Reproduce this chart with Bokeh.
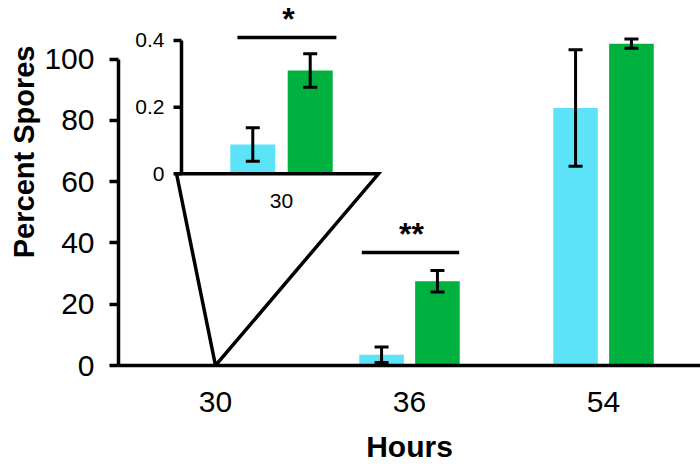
from bokeh.plotting import figure
from bokeh.models import (ColumnDataSource, Range1d, Whisker, TeeHead,
                          FixedTicker, Title)
from bokeh.transform import dodge
from bokeh.core.properties import value
from bokeh.embed import file_html
from bokeh.resources import INLINE

# ---------------- data ----------------
hours = ["30", "36", "54"]
wt_mean = [0.088, 3.5, 84.0]      # cyan series (percent spores)
wt_err = [0.05, 2.5, 19.0]
mut_mean = [0.31, 27.5, 105.0]    # green series
mut_err = [0.05, 3.5, 1.5]

main_ticks = [0, 20, 40, 60, 80, 100]
inset_ticks = [0, 0.2, 0.4]
inset_tick_labels = ["0", "0.2", "0.4"]

sig_hour_main = ["36"]
sig_mark_main = ["**"]
sig_y_main = [36.9]
sig_mark_inset = ["*"]
sig_y_inset = [0.409]

CYAN = "#5DE3F8"
GREEN = "#00B140"
FONT = "Liberation Sans"

# category slots on a linear axis (slot i is centred at i + 0.5)
xpos = [i + 0.5 for i in range(len(hours))]

# ---------------- figure ----------------
W, H = 700, 469
p = figure(width=W, height=H, x_range=Range1d(0, len(hours)),
           y_range=Range1d(0, 119.1), output_backend="svg", toolbar_location=None,
           min_border_left=118, min_border_right=0, min_border_top=0,
           min_border_bottom=104, title=None)
p.outline_line_color = None
p.grid.visible = False

# inset coordinate system (same frame, different scales)
p.extra_x_ranges = {"ix": Range1d(-0.8402, 2.1598)}
p.extra_y_ranges = {"iy": Range1d(-0.5752, 0.520)}

# ---------------- axes ----------------
yax = p.yaxis[0]
yax.ticker = FixedTicker(ticks=main_ticks)
yax.bounds = (0, 100)
yax.axis_line_width = 3.5
yax.major_tick_line_width = 3.5
yax.major_tick_out = 9
yax.major_tick_in = 0
yax.minor_tick_line_color = None
yax.major_label_text_font = FONT
yax.major_label_text_font_size = "30px"
yax.major_label_text_color = "black"
yax.major_label_standoff = 15

xax = p.xaxis[0]
xax.ticker = FixedTicker(ticks=xpos)
xax.major_label_overrides = {x: h for x, h in zip(xpos, hours)}
xax.axis_line_width = 3.5
xax.major_tick_line_color = None
xax.minor_tick_line_color = None
xax.major_label_text_font = FONT
xax.major_label_text_font_size = "30px"
xax.major_label_text_color = "black"
xax.major_label_standoff = 20
xax.axis_label = "Hours"
xax.axis_label_text_font = FONT
xax.axis_label_text_font_style = "bold"
xax.axis_label_text_font_size = "30px"
xax.axis_label_text_color = "black"
xax.axis_label_standoff = 15

p.add_layout(Title(text="Percent Spores", align="right", offset=45, text_font=FONT,
                   text_font_size="29px", text_font_style="bold", text_color="black",
                   standoff=4), "left")

# ---------------- main bars ----------------
src = ColumnDataSource(dict(
    x=xpos, hours=hours, wt=wt_mean, mut=mut_mean,
    wt_lo=[m - e for m, e in zip(wt_mean, wt_err)],
    wt_hi=[m + e for m, e in zip(wt_mean, wt_err)],
    mut_lo=[m - e for m, e in zip(mut_mean, mut_err)],
    mut_hi=[m + e for m, e in zip(mut_mean, mut_err)],
))
OFF_MAIN = 0.144
BW_MAIN = 0.23
p.vbar(x=dodge("x", -OFF_MAIN), top="wt", width=BW_MAIN,
       source=src, fill_color=CYAN, line_color=None)
p.vbar(x=dodge("x", OFF_MAIN), top="mut", width=BW_MAIN,
       source=src, fill_color=GREEN, line_color=None)


def add_whisker(base, lo, hi, source, **kw):
    w = Whisker(base=base, lower=lo, upper=hi, source=source, line_width=3,
                line_color="black", level="overlay",
                upper_head=TeeHead(size=14, line_width=3, line_color="black"),
                lower_head=TeeHead(size=14, line_width=3, line_color="black"), **kw)
    p.add_layout(w)


# error bars in the main panel for the hours not shown in the inset
esrc = ColumnDataSource({k: v[1:] for k, v in src.data.items()})
add_whisker(dodge("x", -OFF_MAIN), "wt_lo", "wt_hi", esrc)
add_whisker(dodge("x", OFF_MAIN), "mut_lo", "mut_hi", esrc)

# significance for 36 h
ssrc = ColumnDataSource(dict(x=[xpos[hours.index(h)] for h in sig_hour_main],
                             y=sig_y_main, t=sig_mark_main,
                             ty=[y + 6.0 for y in sig_y_main]))
p.segment(x0=dodge("x", -0.246), x1=dodge("x", 0.256),
          y0="y", y1="y", source=ssrc, line_color="black", line_width=3.5)
p.text(x=dodge("x", 0.01), y="ty", text="t", source=ssrc,
       text_font=value(FONT), text_font_size="32px", text_font_style="bold",
       text_align="center", text_baseline="alphabetic", text_color="black")

# ---------------- inset (30 h zoom) ----------------
IR = dict(x_range_name="ix", y_range_name="iy")
isrc = ColumnDataSource(dict(
    x=[0], label=[hours[0]], wt=[wt_mean[0]], mut=[mut_mean[0]],
    wt_lo=[wt_mean[0] - wt_err[0]], wt_hi=[wt_mean[0] + wt_err[0]],
    mut_lo=[mut_mean[0] - mut_err[0]], mut_hi=[mut_mean[0] + mut_err[0]],
))
OFF_IN = 0.148
BW_IN = 0.232
p.vbar(x=dodge("x", -OFF_IN), top="wt", width=BW_IN, source=isrc,
       fill_color=CYAN, line_color=None, **IR)
p.vbar(x=dodge("x", OFF_IN), top="mut", width=BW_IN, source=isrc,
       fill_color=GREEN, line_color=None, **IR)
add_whisker(dodge("x", -OFF_IN), "wt_lo", "wt_hi", isrc, **IR)
add_whisker(dodge("x", OFF_IN), "mut_lo", "mut_hi", isrc, **IR)

# zoom triangle: inset baseline -> (first main category, 0)
xr = p.x_range
ixr = p.extra_x_ranges["ix"]
iyr = p.extra_y_ranges["iy"]
bx = ixr.start + (xpos[0] - xr.start) / (xr.end - xr.start) * (ixr.end - ixr.start)
by = iyr.start
p.patch([-0.541, 0.5, bx], [0, 0, by], fill_color=None, line_color="black",
        line_width=3.5, line_join="miter", **IR)

# inset y axis
AX = -0.5155
TICK = 8 / 194
p.segment(x0=[AX], y0=[inset_ticks[0]], x1=[AX], y1=[inset_ticks[-1]],
          line_color="black", line_width=3.5, **IR)
p.segment(x0=[AX] * len(inset_ticks), y0=inset_ticks,
          x1=[AX - TICK] * len(inset_ticks), y1=inset_ticks,
          line_color="black", line_width=3.5, **IR)
p.text(x=[AX - 17 / 194] * len(inset_ticks), y=inset_ticks, text=inset_tick_labels,
       text_font=value(FONT), text_font_size="21px", text_align="right",
       text_baseline="middle", text_color="black", **IR)
p.text(x="x", y=-0.083, text="label", source=isrc, text_font=value(FONT),
       text_font_size="21px", text_align="center", text_baseline="middle",
       text_color="black", **IR)

# significance for 30 h (inset)
p.segment(x0=[-0.227], x1=[0.283], y0=sig_y_inset, y1=sig_y_inset,
          line_color="black", line_width=3.5, **IR)
p.text(x=[0.036], y=[0.464], text=sig_mark_inset, text_font=value(FONT),
       text_font_size="32px", text_font_style="bold", text_align="center",
       text_baseline="alphabetic", text_color="black", **IR)

open("out.html", "w").write(file_html(p, INLINE))
